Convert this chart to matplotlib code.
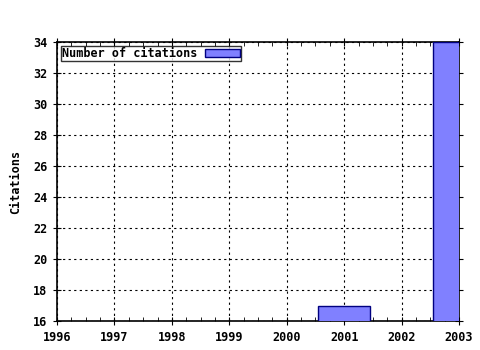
import matplotlib
matplotlib.use("Agg")
import matplotlib.pyplot as plt
from matplotlib.ticker import MultipleLocator

years = [2001, 2003]
citations = [17, 34]
xticks = [1996, 1997, 1998, 1999, 2000, 2001, 2002, 2003]
yticks = [16, 18, 20, 22, 24, 26, 28, 30, 32, 34]

plt.rcParams['font.family'] = ['DejaVu Sans Mono']
plt.rcParams['font.weight'] = 'bold'

fig = plt.figure(figsize=(4.8, 3.5), dpi=100)
ax = fig.add_axes([57/480, 29/350, 402/480, 279/350])

ax.bar(years, citations, width=0.9, color='#8080ff', edgecolor='#000080',
       linewidth=1, label='Number of citations', zorder=3)

ax.set_xlim(1996, 2003)
ax.set_ylim(16, 34)
ax.set_xticks(xticks)
ax.set_yticks(yticks)
ax.xaxis.set_minor_locator(MultipleLocator(0.25))
ax.grid(True, which='major', linestyle=(0, (2, 3)), color='black', linewidth=0.8, zorder=1)
ax.tick_params(which='major', direction='inout', length=6, labelsize=8.5, top=True, right=True, pad=4)
ax.tick_params(which='minor', direction='in', length=3, top=True, bottom=True)
for lab in ax.get_xticklabels() + ax.get_yticklabels():
    lab.set_fontweight('bold')
for s in ax.spines.values():
    s.set_linewidth(1.2)
ax.set_ylabel('Citations', fontsize=8.5, fontweight='bold', labelpad=8)

leg = ax.legend(loc='upper left', fontsize=8.5, frameon=True, fancybox=False,
                handlelength=3.0, handleheight=0.6, borderpad=0.1,
                borderaxespad=0.35, handletextpad=0.6, markerfirst=False)
leg.get_frame().set_edgecolor('black')
leg.get_frame().set_linewidth(1)
for t in leg.get_texts():
    t.set_fontweight('bold')

fig.savefig('out.png', dpi=100)
